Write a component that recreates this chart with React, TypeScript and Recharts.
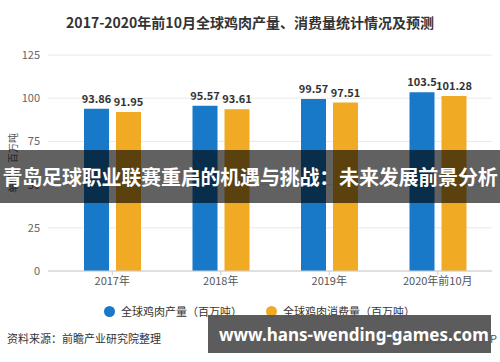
import { Bar, BarChart, CartesianGrid, LabelList, XAxis, YAxis } from "recharts";

const categories = ["2017年", "2018年", "2019年", "2020年前10月"];
const production = [93.86, 95.57, 99.57, 103.5];
const consumption = [91.95, 93.61, 97.51, 101.28];
const yTicks = [0, 25, 50, 75, 100, 125];

const data = categories.map((name, i) => ({
    name,
    production: production[i],
    consumption: consumption[i],
}));

const BLUE = "#1879c9";
const ORANGE = "#f0aa24";
const FONT = "'Noto Sans CJK SC', 'Noto Sans', sans-serif";

const App = () => {
    return (
        <div style={{ position: "absolute", left: 0, top: 0, width: 500, height: 362, background: "#fff", fontFamily: FONT, overflow: "hidden" }}>
            <div style={{ position: "absolute", top: 12, width: 500, textAlign: "center", fontSize: 14, fontWeight: 700, color: "#333" }}>
                2017-2020年前10月全球鸡肉产量、消费量统计情况及预测
            </div>
            <div style={{ position: "absolute", left: 0, top: 0, width: 500, height: 301 }}>
                <BarChart
                    width={500}
                    height={301}
                    data={data}
                    margin={{ top: 55, right: 8, bottom: 0, left: 0 }}
                    barSize={25}
                    barGap={7}
                >
                    <CartesianGrid vertical={false} stroke="#e8e8e8" />
                    <XAxis
                        dataKey="name"
                        height={30}
                        padding={{ left: 10, right: 0 }}
                        tick={{ fontSize: 11, fill: "#555", fontFamily: FONT }}
                        tickLine={{ stroke: "#ccc" }}
                        tickSize={4}
                        axisLine={{ stroke: "#ccc" }}
                    />
                    <YAxis
                        width={48}
                        domain={[0, 125]}
                        ticks={yTicks}
                        tick={{ fontSize: 11, fill: "#666", fontFamily: FONT }}
                        tickLine={false}
                        axisLine={false}
                    />
                    <Bar dataKey="production" fill={BLUE} isAnimationActive={false}>
                        <LabelList dataKey="production" position="top" offset={6} style={{ fontSize: 11, fontWeight: 700, fill: "#333", fontFamily: FONT }} />
                    </Bar>
                    <Bar dataKey="consumption" fill={ORANGE} isAnimationActive={false}>
                        <LabelList dataKey="consumption" position="top" offset={6} style={{ fontSize: 11, fontWeight: 700, fill: "#333", fontFamily: FONT }} />
                    </Bar>
                </BarChart>
            </div>
            <div style={{ position: "absolute", left: 13 - 40, top: 163 - 7, width: 80, textAlign: "center", fontSize: 10, color: "#555", transform: "rotate(-90deg)", lineHeight: "14px" }}>
                单位：百万吨
            </div>
            <div style={{ position: "absolute", top: 303, left: 104, display: "flex", alignItems: "center", fontSize: 11, color: "#333", lineHeight: "16px" }}>
                <span style={{ width: 11, height: 11, borderRadius: 6, background: BLUE, display: "inline-block", marginRight: 6 }} />
                <span>全球鸡肉产量（百万吨）</span>
                <span style={{ width: 11, height: 11, borderRadius: 6, background: ORANGE, display: "inline-block", marginLeft: 24, marginRight: 6 }} />
                <span>全球鸡肉消费量（百万吨）</span>
            </div>
            <div style={{ position: "absolute", top: 330, left: 7, fontSize: 11, color: "#333" }}>
                资料来源：前瞻产业研究院整理
            </div>
            <div style={{ position: "absolute", top: 330, right: 3, fontSize: 11, color: "#555" }}>
                前瞻经济学人APP
            </div>
            <div style={{ position: "absolute", left: 0, top: 150, width: 500, height: 53, background: "rgba(0,0,0,0.62)" }} />
            <div style={{ position: "absolute", left: 0, top: 150, width: 500, height: 53, display: "flex", alignItems: "center", justifyContent: "center", color: "#fff", fontSize: 20, fontWeight: 700, whiteSpace: "nowrap", letterSpacing: -0.2 }}>
                青岛足球职业联赛重启的机遇与挑战：未来发展前景分析
            </div>
            <div style={{ position: "absolute", left: 208, top: 315, width: 283, height: 38, background: "rgba(85,85,85,0.96)", display: "flex", alignItems: "center", paddingLeft: 11, boxSizing: "border-box", color: "#fff", fontSize: 17, fontWeight: 700, whiteSpace: "nowrap", fontFamily: "'Noto Sans', sans-serif" }}>
                www.hans-wending-games.com
            </div>
        </div>
    );
};

export default App;
